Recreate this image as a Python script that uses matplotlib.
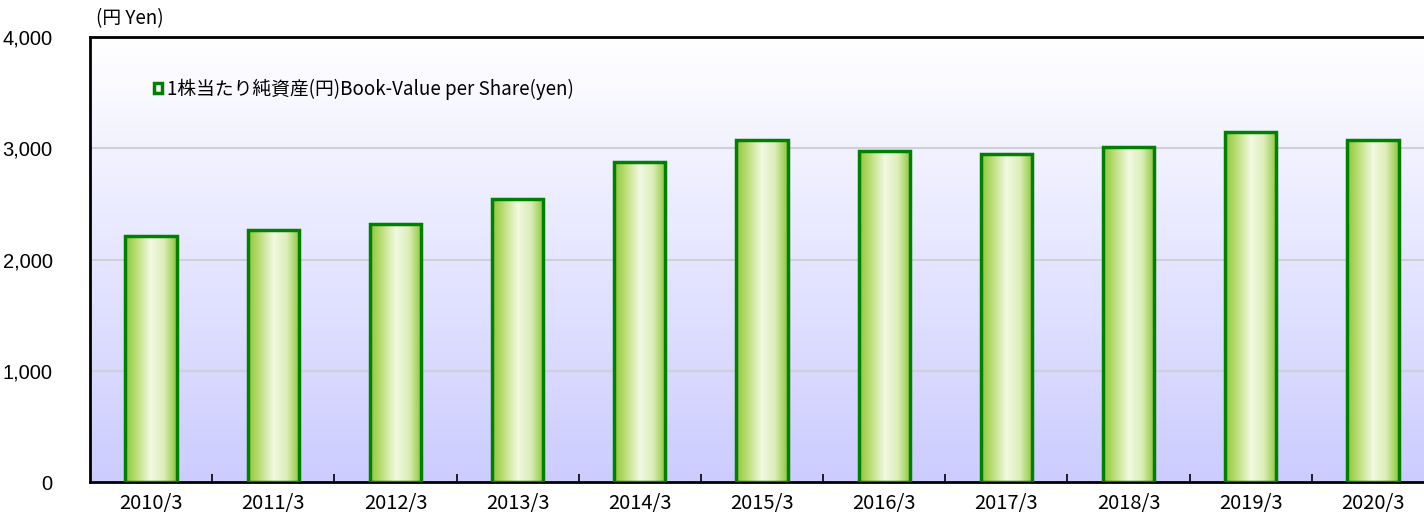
import matplotlib
matplotlib.use('Agg')
from matplotlib import pyplot as plt
from matplotlib.colors import LinearSegmentedColormap
import numpy as np

plt.rcParams['font.family'] = ['Noto Sans CJK JP', 'DejaVu Sans']

# Book-value per share (yen)
years = ['2010/3', '2011/3', '2012/3', '2013/3', '2014/3', '2015/3',
         '2016/3', '2017/3', '2018/3', '2019/3', '2020/3']
bvps = [2215, 2265, 2316, 2544, 2874, 3072, 2975, 2948, 3011, 3142, 3071]
yticks = [0, 1000, 2000, 3000, 4000]

fig = plt.figure(figsize=(14.24, 5.16), dpi=100)
ax = fig.add_axes([90 / 1424, 34 / 516, 1344 / 1424, 445 / 516])

# background gradient: white at top, lavender at bottom
bg = LinearSegmentedColormap.from_list('bg', ['#ccccff', '#ffffff'])
grad = np.linspace(0, 1, 256).reshape(-1, 1)
ax.imshow(grad, cmap=bg, origin='lower', aspect='auto',
          extent=(0, 1, 0, 1), transform=ax.transAxes, zorder=0)

for y in yticks[1:-1]:
    ax.axhline(y, color='#d0d0d8', lw=1.5, zorder=1)

# bars with horizontal gradient fill
barcm = LinearSegmentedColormap.from_list(
    'bar', [(0, '#8cc63a'), (0.2, '#b8dc70'), (0.5, '#f2f9e2'),
            (0.75, '#dcedb8'), (1, '#8cc63a')])
hgrad = np.linspace(0, 1, 256).reshape(1, -1)
x = np.arange(len(years))
w = 0.42
bars = ax.bar(x, bvps, width=w, facecolor='none', edgecolor='#008000',
              lw=2.5, zorder=3, label='1株当たり純資産(円)Book-Value per Share(yen)')
for xi, v in zip(x, bvps):
    ax.imshow(hgrad, cmap=barcm, aspect='auto',
              extent=(xi - w / 2, xi + w / 2, 0, v), zorder=2)

ax.set_xlim(-0.5, len(years) - 0.5)
ax.set_ylim(0, 4000)
ax.set_xticks(x)
ax.set_xticklabels(years, fontsize=14.5)
ax.set_xticks(x[:-1] + 0.5, minor=True)
ax.tick_params(axis='x', which='major', length=0, pad=8)
ax.tick_params(axis='x', which='minor', direction='in', length=6, width=1.2)
ax.set_yticks(yticks)
ax.set_yticklabels([f'{t:,}' for t in yticks], fontsize=14.5, family='Liberation Sans')
ax.tick_params(axis='y', length=0, pad=27)

for s in ['left', 'bottom', 'top']:
    ax.spines[s].set_linewidth(2)
    ax.spines[s].set_color('black')
ax.spines['right'].set_visible(False)

fig.text(96 / 1424, 1 - 19 / 516, '(円 Yen)', fontsize=13.5, va='center', ha='left')

ax.legend(handles=[bars], loc='upper left', bbox_to_anchor=(0.035, 0.945),
          frameon=False, fontsize=13.5, handlelength=0.45, handleheight=0.45,
          handletextpad=0.25)

fig.savefig('out.png', dpi=100)
